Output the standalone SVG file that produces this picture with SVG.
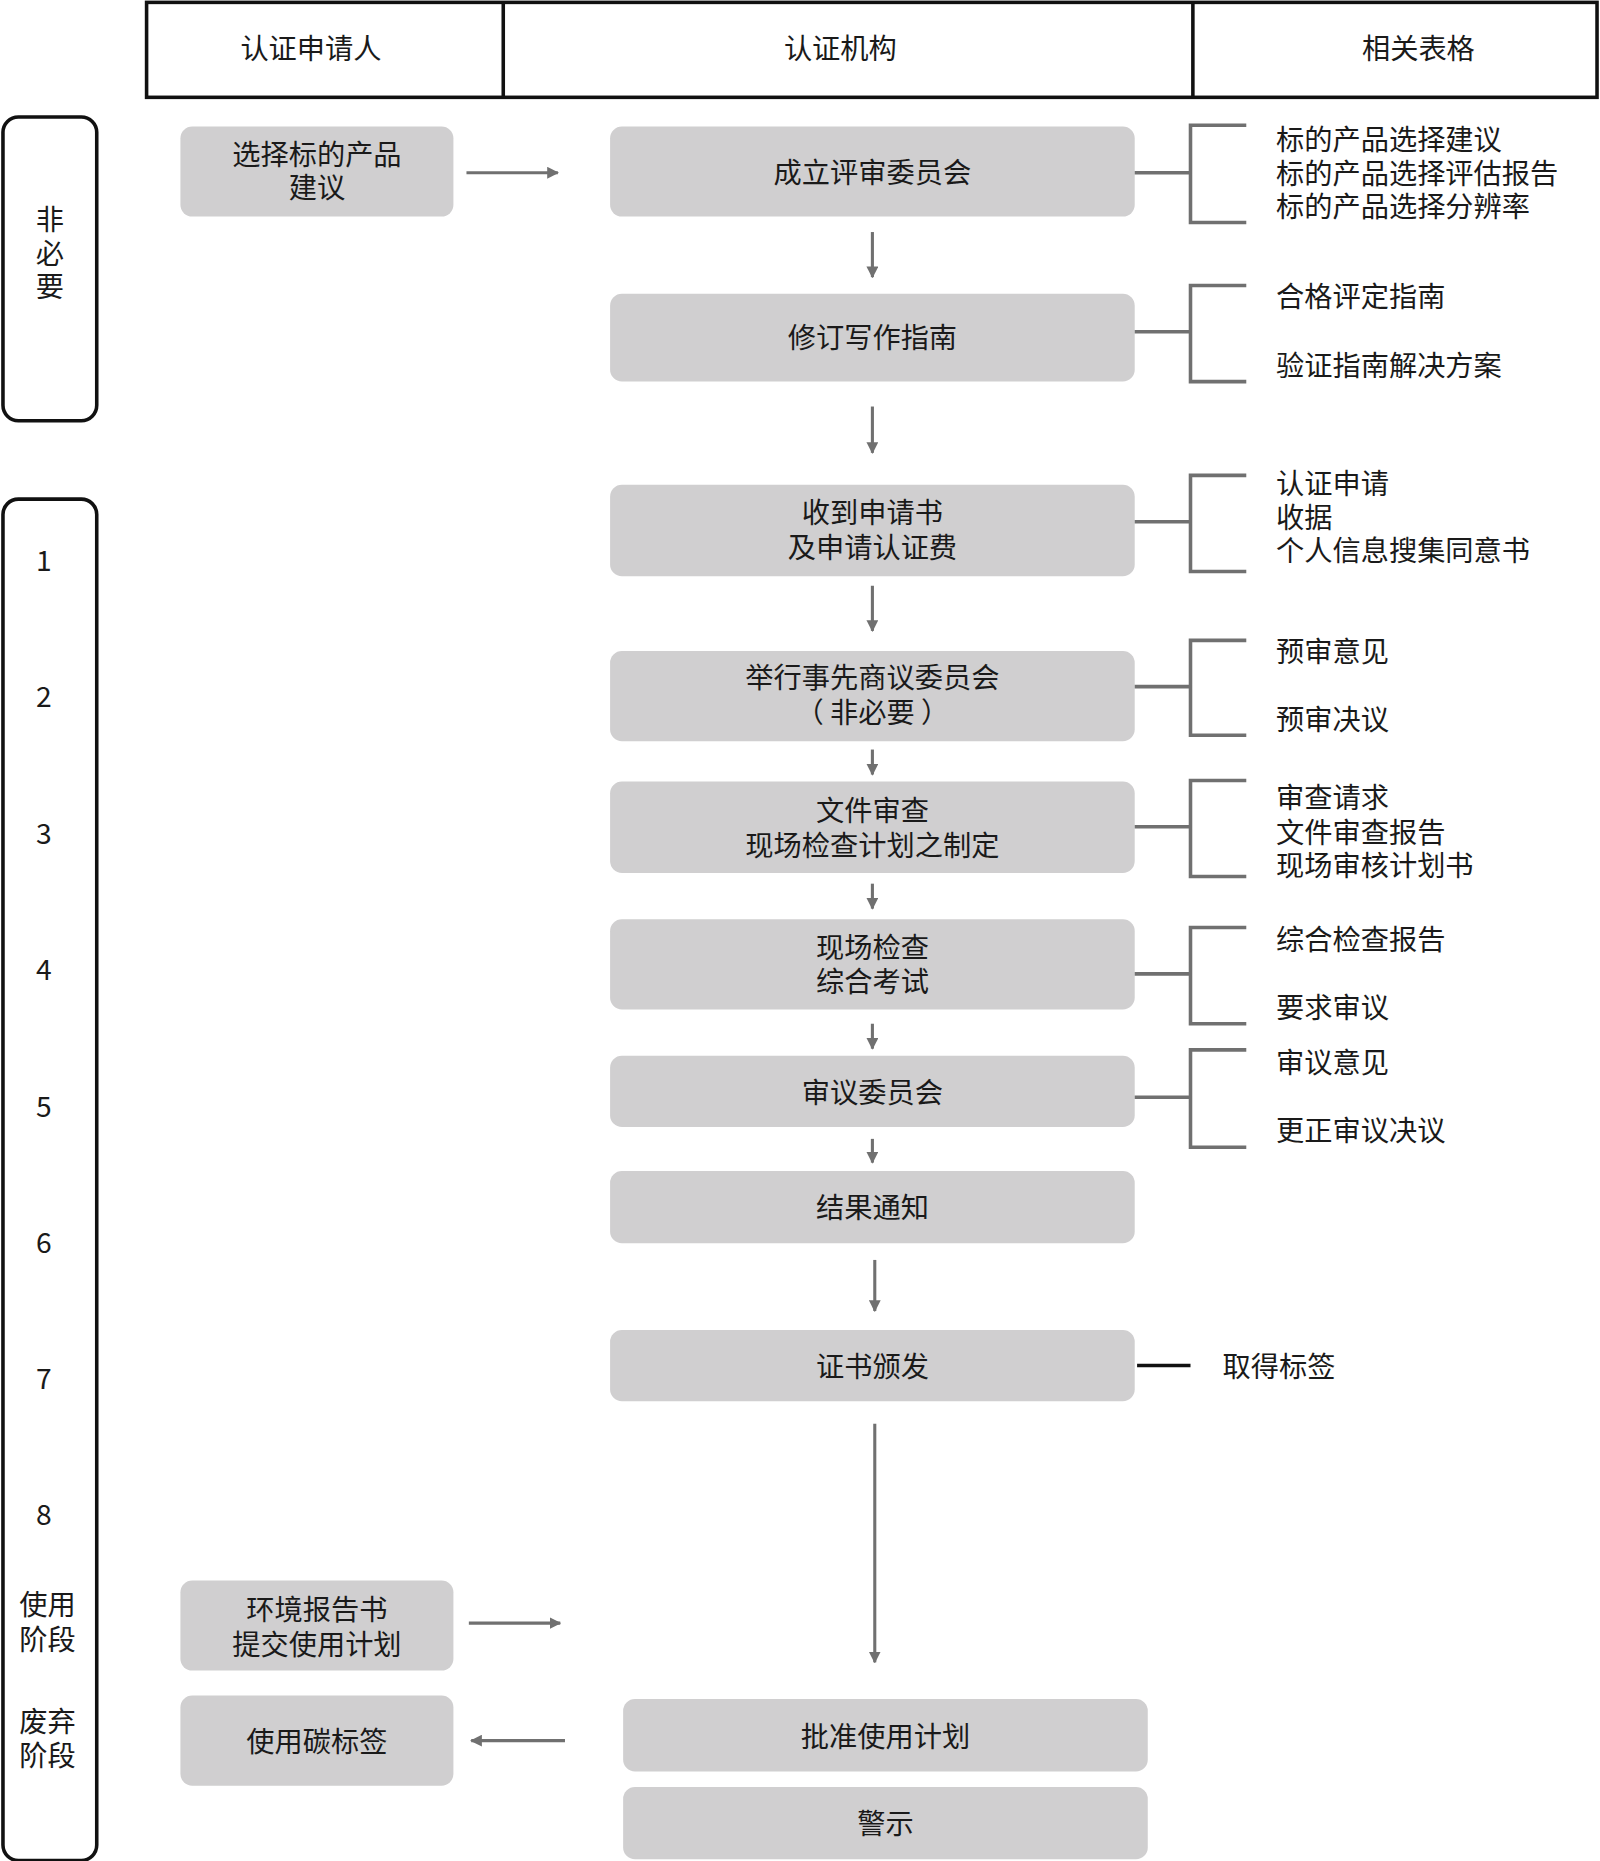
<svg xmlns="http://www.w3.org/2000/svg" width="1600" height="1861" viewBox="0 0 1600 1861">
<defs>
<style>
text{font-family:"Noto Sans CJK SC","Noto Sans",sans-serif;font-size:23.8px;fill:#1a1a1a;dominant-baseline:central}
.c{text-anchor:middle}
.node{fill:#d0cfd0}
.frame{fill:none;stroke:#111;stroke-width:3}
.arr{stroke:#707070;stroke-width:2.6;fill:none}
.br{stroke:#707070;stroke-width:3;fill:none}
</style>
<marker id="ah" viewBox="0 0 10 10" refX="9" refY="5" markerWidth="10" markerHeight="10" markerUnits="userSpaceOnUse" orient="auto">
<path d="M0,0 L10,5 L0,10 z" fill="#707070"/>
</marker>
</defs>
<rect width="1600" height="1861" fill="#fff"/>
<g transform="scale(1.18694) translate(0,-1.5)">
<g id="header">
<rect class="frame" x="123.5" y="3.5" width="1222" height="80"/>
<line class="frame" x1="424" y1="3.5" x2="424" y2="83.5"/>
<line class="frame" x1="1005" y1="3.5" x2="1005" y2="83.5"/>
<text class="c" x="262" y="41">认证申请人</text>
<text class="c" x="708" y="41">认证机构</text>
<text class="c" x="1195" y="41">相关表格</text>
</g>
<g id="stage-optional">
<rect class="frame" x="2.5" y="100" width="79" height="256" rx="13"/>
<text class="c" x="42" y="185">非</text>
<text class="c" x="42" y="213">必</text>
<text class="c" x="42" y="241">要</text>
</g>
<g id="stage-steps">
<rect class="frame" x="2.5" y="422" width="79" height="1147" rx="13"/>
<text class="c" x="37" y="472">1</text>
<text class="c" x="37" y="587">2</text>
<text class="c" x="37" y="702">3</text>
<text class="c" x="37" y="817">4</text>
<text class="c" x="37" y="932">5</text>
<text class="c" x="37" y="1047">6</text>
<text class="c" x="37" y="1161">7</text>
<text class="c" x="37" y="1276">8</text>
<text class="c" x="40" y="1352">使用</text>
<text class="c" x="40" y="1381">阶段</text>
<text class="c" x="40" y="1450">废弃</text>
<text class="c" x="40" y="1479">阶段</text>
</g>
<g id="n-select">
<rect class="node" x="152" y="108" width="230" height="76" rx="10"/>
<text class="c" x="267" y="130">选择标的产品</text>
<text class="c" x="267" y="158">建议</text>
</g>
<g id="n-committee">
<rect class="node" x="514" y="108" width="442" height="76" rx="10"/>
<text class="c" x="735" y="145">成立评审委员会</text>
</g>
<g id="n-guide">
<rect class="node" x="514" y="249" width="442" height="74" rx="10"/>
<text class="c" x="735" y="284">修订写作指南</text>
</g>
<g id="n-receive">
<rect class="node" x="514" y="410" width="442" height="77" rx="10"/>
<text class="c" x="735" y="432">收到申请书</text>
<text class="c" x="735" y="461">及申请认证费</text>
</g>
<g id="n-pre">
<rect class="node" x="514" y="550" width="442" height="76" rx="10"/>
<text class="c" x="735" y="571">举行事先商议委员会</text>
<text class="c" x="735" y="600">（ 非必要 ）</text>
</g>
<g id="n-doc">
<rect class="node" x="514" y="660" width="442" height="77" rx="10"/>
<text class="c" x="735" y="683">文件审查</text>
<text class="c" x="735" y="712">现场检查计划之制定</text>
</g>
<g id="n-site">
<rect class="node" x="514" y="776" width="442" height="76" rx="10"/>
<text class="c" x="735" y="798">现场检查</text>
<text class="c" x="735" y="827">综合考试</text>
</g>
<g id="n-review">
<rect class="node" x="514" y="891" width="442" height="60" rx="10"/>
<text class="c" x="735" y="920">审议委员会</text>
</g>
<g id="n-result">
<rect class="node" x="514" y="988" width="442" height="61" rx="10"/>
<text class="c" x="735" y="1017">结果通知</text>
</g>
<g id="n-cert">
<rect class="node" x="514" y="1122" width="442" height="60" rx="10"/>
<text class="c" x="735" y="1151">证书颁发</text>
</g>
<g id="n-env">
<rect class="node" x="152" y="1333" width="230" height="76" rx="10"/>
<text class="c" x="267" y="1356">环境报告书</text>
<text class="c" x="267" y="1385">提交使用计划</text>
</g>
<g id="n-uselabel">
<rect class="node" x="152" y="1430" width="230" height="76" rx="10"/>
<text class="c" x="267" y="1467">使用碳标签</text>
</g>
<g id="n-approve">
<rect class="node" x="525" y="1433" width="442" height="61" rx="10"/>
<text class="c" x="746" y="1463">批准使用计划</text>
</g>
<g id="n-warn">
<rect class="node" x="525" y="1507" width="442" height="61" rx="10"/>
<text class="c" x="746" y="1536">警示</text>
</g>
<g id="forms">
<text x="1075" y="117">标的产品选择建议</text>
<text x="1075" y="146">标的产品选择评估报告</text>
<text x="1075" y="174">标的产品选择分辨率</text>
<text x="1075" y="250">合格评定指南</text>
<text x="1075" y="308">验证指南解决方案</text>
<text x="1075" y="407">认证申请</text>
<text x="1075" y="436">收据</text>
<text x="1075" y="464">个人信息搜集同意书</text>
<text x="1075" y="549">预审意见</text>
<text x="1075" y="606">预审决议</text>
<text x="1075" y="672">审查请求</text>
<text x="1075" y="701">文件审查报告</text>
<text x="1075" y="729">现场审核计划书</text>
<text x="1075" y="791">综合检查报告</text>
<text x="1075" y="849">要求审议</text>
<text x="1075" y="895">审议意见</text>
<text x="1075" y="952">更正审议决议</text>
<text x="1030" y="1151">取得标签</text>
</g>
<g id="connectors">
<line class="arr" x1="393" y1="147" x2="470" y2="147" marker-end="url(#ah)"/>
<line class="arr" x1="735" y1="197" x2="735" y2="235" marker-end="url(#ah)"/>
<line class="arr" x1="735" y1="344" x2="735" y2="383" marker-end="url(#ah)"/>
<line class="arr" x1="735" y1="495" x2="735" y2="533" marker-end="url(#ah)"/>
<line class="arr" x1="735" y1="633" x2="735" y2="654" marker-end="url(#ah)"/>
<line class="arr" x1="735" y1="746" x2="735" y2="767" marker-end="url(#ah)"/>
<line class="arr" x1="735" y1="864" x2="735" y2="885" marker-end="url(#ah)"/>
<line class="arr" x1="735" y1="961" x2="735" y2="981" marker-end="url(#ah)"/>
<line class="arr" x1="737" y1="1063" x2="737" y2="1106" marker-end="url(#ah)"/>
<line class="arr" x1="737" y1="1201" x2="737" y2="1402" marker-end="url(#ah)"/>
<line class="arr" x1="395" y1="1369" x2="472" y2="1369" marker-end="url(#ah)"/>
<line class="arr" x1="476" y1="1468" x2="397" y2="1468" marker-end="url(#ah)"/>
<path class="br" d="M956,147 H1003 M1050,107 H1003 V189 H1050"/>
<path class="br" d="M956,281 H1003 M1050,242 H1003 V323 H1050"/>
<path class="br" d="M956,441 H1003 M1050,402 H1003 V483 H1050"/>
<path class="br" d="M956,580 H1003 M1050,541 H1003 V621 H1050"/>
<path class="br" d="M956,698 H1003 M1050,659 H1003 V740 H1050"/>
<path class="br" d="M956,822 H1003 M1050,783 H1003 V864 H1050"/>
<path class="br" d="M956,926 H1003 M1050,886 H1003 V968 H1050"/>
<line x1="958" y1="1152" x2="1003" y2="1152" stroke="#111" stroke-width="3"/>
</g>
</g>
</svg>
